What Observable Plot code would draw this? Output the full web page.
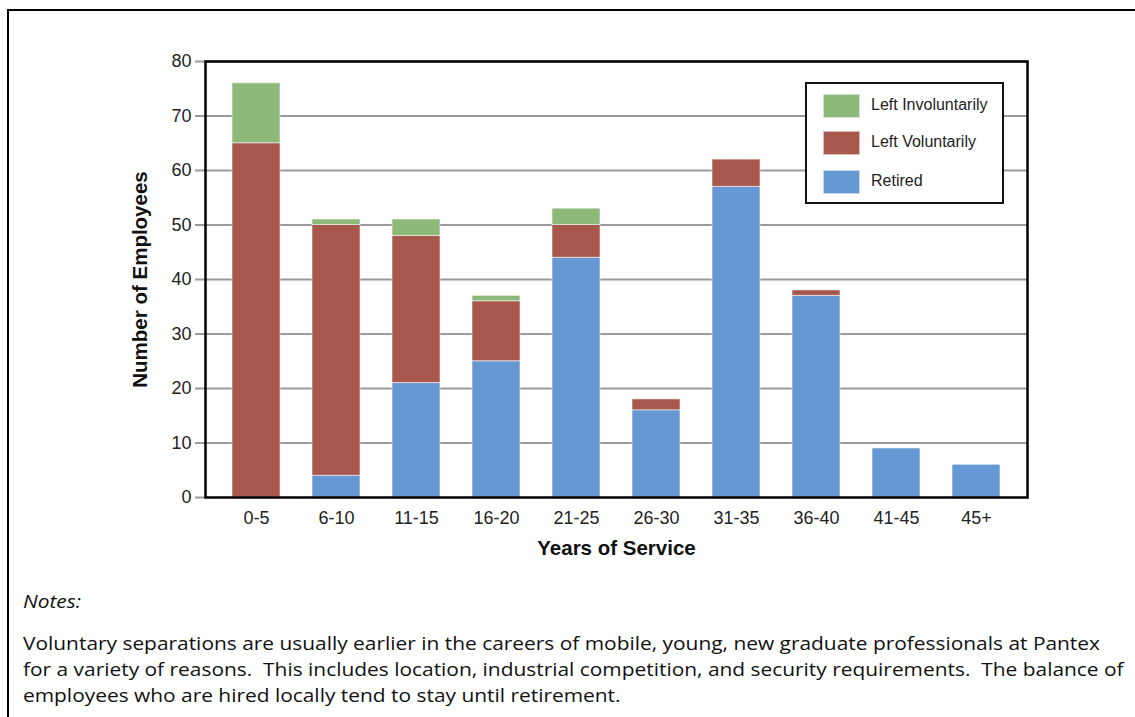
<!DOCTYPE html>
<html>
<head>
<meta charset="utf-8">
<script src="https://cdn.jsdelivr.net/npm/d3@7"></script>
<script src="https://cdn.jsdelivr.net/npm/@observablehq/plot@0.6"></script>
<style>
  html, body { margin: 0; padding: 0; background: #fff; width: 1135px; height: 717px; overflow: hidden; }
  #frame { position: absolute; left: 7px; top: 9px; width: 1140px; height: 720px; border: 2px solid #000; box-sizing: border-box; }
  #chart { position: absolute; left: 0; top: 0; }
  #legend { position: absolute; left: 805px; top: 82px; width: 199px; height: 122px; border: 2px solid #111; box-sizing: border-box; background: #fff; font-family: "Liberation Sans", Arial, sans-serif; font-size: 16px; color: #222; }
  .lrow { position: absolute; left: 16px; height: 24px; }
  .sw { position: absolute; left: 0; top: 0; width: 37px; height: 24px; box-sizing: border-box; border: 1px solid rgba(255,255,255,0.6); }
  .lt { position: absolute; left: 48px; top: 2px; white-space: nowrap; }
  .note { position: absolute; left: 23px; font-family: "Open Sans", "Noto Sans", sans-serif; font-size: 18.5px; color: #111; white-space: nowrap; transform-origin: 0 50%; }
</style>
</head>
<body>
<div id="frame"></div>
<div id="chart"></div>
<div id="legend"></div>
<div class="note" id="n0" style="top:588px;font-style:italic;">Notes:</div>
<div class="note" id="n1" style="top:630px;">Voluntary separations are usually earlier in the careers of mobile, young, new graduate professionals at Pantex</div>
<div class="note" id="n2" style="top:656px;">for a variety of reasons.&nbsp; This includes location, industrial competition, and security requirements.&nbsp; The balance of</div>
<div class="note" id="n3" style="top:682px;">employees who are hired locally tend to stay until retirement.</div>
<script>
const categories = ["0-5","6-10","11-15","16-20","21-25","26-30","31-35","36-40","41-45","45+"];
const retired =            [0, 4, 21, 25, 44, 16, 57, 37, 9, 6];
const leftVoluntarily =    [65, 46, 27, 11, 6, 2, 5, 1, 0, 0];
const leftInvoluntarily =  [11, 1, 3, 1, 3, 0, 0, 0, 0, 0];
const seriesNames = ["Retired", "Left Voluntarily", "Left Involuntarily"];
const seriesColors = ["#6699d3", "#a8574c", "#8dba7b"];
const yTicks = [0, 10, 20, 30, 40, 50, 60, 70, 80];

const rows = [];
categories.forEach((c, i) => {
  rows.push({cat: c, series: seriesNames[0], value: retired[i]});
  rows.push({cat: c, series: seriesNames[1], value: leftVoluntarily[i]});
  rows.push({cat: c, series: seriesNames[2], value: leftInvoluntarily[i]});
});

const font = "Liberation Sans, Arial, sans-serif";
const chart = Plot.plot({
  width: 1135,
  height: 570,
  marginLeft: 205,
  marginRight: 108,
  marginTop: 61,
  marginBottom: 73,
  style: {fontFamily: font, fontSize: "18px", background: "transparent", color: "#222"},
  x: {domain: categories, paddingInner: 0.4, paddingOuter: 0.2, inset: 8, label: null},
  y: {domain: [0, 80], label: null},
  color: {domain: seriesNames, range: seriesColors},
  marks: [
    Plot.ruleY(yTicks.filter(d => d > 0), {stroke: "#9a9a9a", strokeWidth: 2.2}),
    Plot.barY(rows, Plot.stackY({x: "cat", y: "value", fill: "series", order: seriesNames, stroke: "#ffffff", strokeOpacity: 0.55, strokeWidth: 1})),
    Plot.axisY({ticks: yTicks, tickSize: 10, tickPadding: 4, stroke: "#9a9a9a", strokeWidth: 2, fill: "#222", fontSize: 18, label: null}),
    Plot.axisX({tickSize: 0, tickPadding: 14, fill: "#222", fontSize: 18, label: null}),
    Plot.frame({stroke: "#000", strokeWidth: 2.5}),
    Plot.text(["Number of Employees"], {frameAnchor: "left", textAnchor: "middle", rotate: -90, dx: -65, fontSize: 20.5, fontWeight: "bold", fill: "#111"}),
    Plot.text(["Years of Service"], {frameAnchor: "bottom", textAnchor: "middle", dy: 57, fontSize: 20.5, fontWeight: "bold", fill: "#111"})
  ]
});
document.getElementById("chart").appendChild(chart);

// legend (top to bottom: reverse stacking order)
const legend = document.getElementById("legend");
const order = [2, 1, 0];
const tops = [10, 47, 86];
order.forEach((k, j) => {
  const row = document.createElement("div");
  row.className = "lrow";
  row.style.top = tops[j] + "px";
  const sw = document.createElement("div");
  sw.className = "sw";
  sw.style.background = seriesColors[k];
  const t = document.createElement("div");
  t.className = "lt";
  t.textContent = seriesNames[k];
  row.appendChild(sw); row.appendChild(t);
  legend.appendChild(row);
});

// fit note lines to the reference widths (Calibri-like narrow text)
const el1 = document.getElementById("n1");
const scale = 1077 / el1.getBoundingClientRect().width;
for (const id of ["n0", "n1", "n2", "n3"]) {
  document.getElementById(id).style.transform = `scaleX(${scale})`;
}
</script>
</body>
</html>
